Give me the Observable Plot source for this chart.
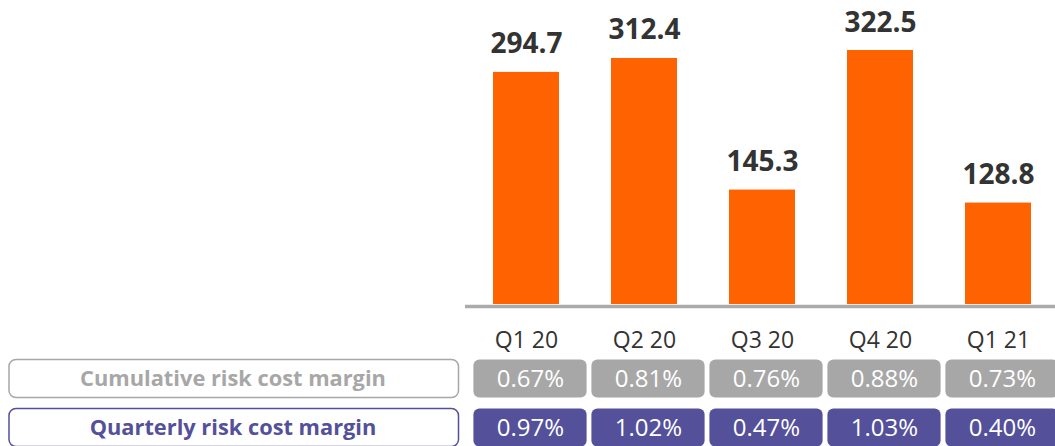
<!DOCTYPE html>
<html>
<head>
<meta charset="utf-8">
<script src="https://cdn.jsdelivr.net/npm/d3@7"></script>
<script src="https://cdn.jsdelivr.net/npm/@observablehq/plot@0.6"></script>
<style>
  html, body { margin: 0; padding: 0; background: #fff; overflow: hidden; }
  #chart svg, #table svg, #labels svg { display: block; }
  #bottom { display: flex; flex-direction: row; }
</style>
</head>
<body>
<div id="chart"></div>
<div id="bottom"><div id="labels"></div><div id="table"></div></div>
<script>
const quarters = ["Q1 20", "Q2 20", "Q3 20", "Q4 20", "Q1 21"];
const riskCosts = [294.7, 312.4, 145.3, 322.5, 128.8];
const cumulativeMargin = [0.67, 0.81, 0.76, 0.88, 0.73];
const quarterlyMargin = [0.97, 1.02, 0.47, 1.03, 0.40];
const rowLabels = ["Cumulative risk cost margin", "Quarterly risk cost margin"];
const rowColors = ["#a7a7a7", "#54509a"];

const FONT = "'Open Sans', sans-serif";
const bars = quarters.map((q, i) => ({quarter: q, value: riskCosts[i]}));
const cells = [];
quarters.forEach((q, i) => {
  cells.push({quarter: q, row: rowLabels[0], value: cumulativeMargin[i]});
  cells.push({quarter: q, row: rowLabels[1], value: quarterlyMargin[i]});
});
const rows = rowLabels.map((r, i) => ({row: r, color: rowColors[i]}));

const chart = Plot.plot({
  width: 1055,
  height: 354,
  marginLeft: 465,
  marginRight: 0,
  marginTop: 0,
  marginBottom: 50,
  style: {fontFamily: FONT, color: "#333", background: "#fff"},
  x: {domain: quarters, range: [464.6, 1058.4], paddingInner: 0.444, paddingOuter: 0.222, label: null},
  y: {domain: [0, 386], axis: null},
  marks: [
    Plot.barY(bars, {x: "quarter", y: "value", fill: "#ff6200"}),
    Plot.ruleY([0], {stroke: "#ababab", strokeWidth: 3.5, dy: 2}),
    Plot.text(bars, {x: "quarter", y: "value", text: d => d.value.toFixed(1), lineAnchor: "bottom", dy: -19,
      fontSize: 28, fontWeight: "bold", fill: "#333"}),
    Plot.axisX({tickSize: 0, tickPadding: 27, fontSize: 23, fill: "#333", label: null})
  ]
});
document.getElementById("chart").appendChild(chart);

const labels = Plot.plot({
  width: 465,
  height: 92,
  margin: 0,
  style: {fontFamily: FONT, background: "#fff"},
  y: {domain: rowLabels, range: [-0.5, 97.5], padding: 0, axis: null},
  marks: [
    Plot.cell(rows, {y: "row", fill: "#fff", stroke: "color", strokeWidth: 1.5, rx: 7,
      insetLeft: 9, insetRight: 6.5, insetTop: 5.5, insetBottom: 5.5}),
    Plot.text(rows, {y: "row", text: "row", fill: "color", fontWeight: "bold", fontSize: 21.8,
      frameAnchor: "middle", dx: 0})
  ]
});
document.getElementById("labels").appendChild(labels);

const table = Plot.plot({
  width: 590,
  height: 92,
  margin: 0,
  style: {fontFamily: FONT, background: "#fff"},
  x: {domain: quarters, range: [-0.4, 593.4], padding: 0, axis: null},
  y: {domain: rowLabels, range: [-0.5, 97.5], padding: 0, axis: null},
  color: {domain: rowLabels, range: rowColors},
  marks: [
    Plot.cell(cells, {x: "quarter", y: "row", fill: "row", rx: 6, dx: 5,
      insetLeft: 2.4, insetRight: 2.4, insetTop: 5.5, insetBottom: 5.5}),
    Plot.text(cells, {x: "quarter", y: "row", text: d => d.value.toFixed(2) + "%", fill: "#fff",
      fontSize: 24, dx: 5})
  ]
});
document.getElementById("table").appendChild(table);
</script>
</body>
</html>
